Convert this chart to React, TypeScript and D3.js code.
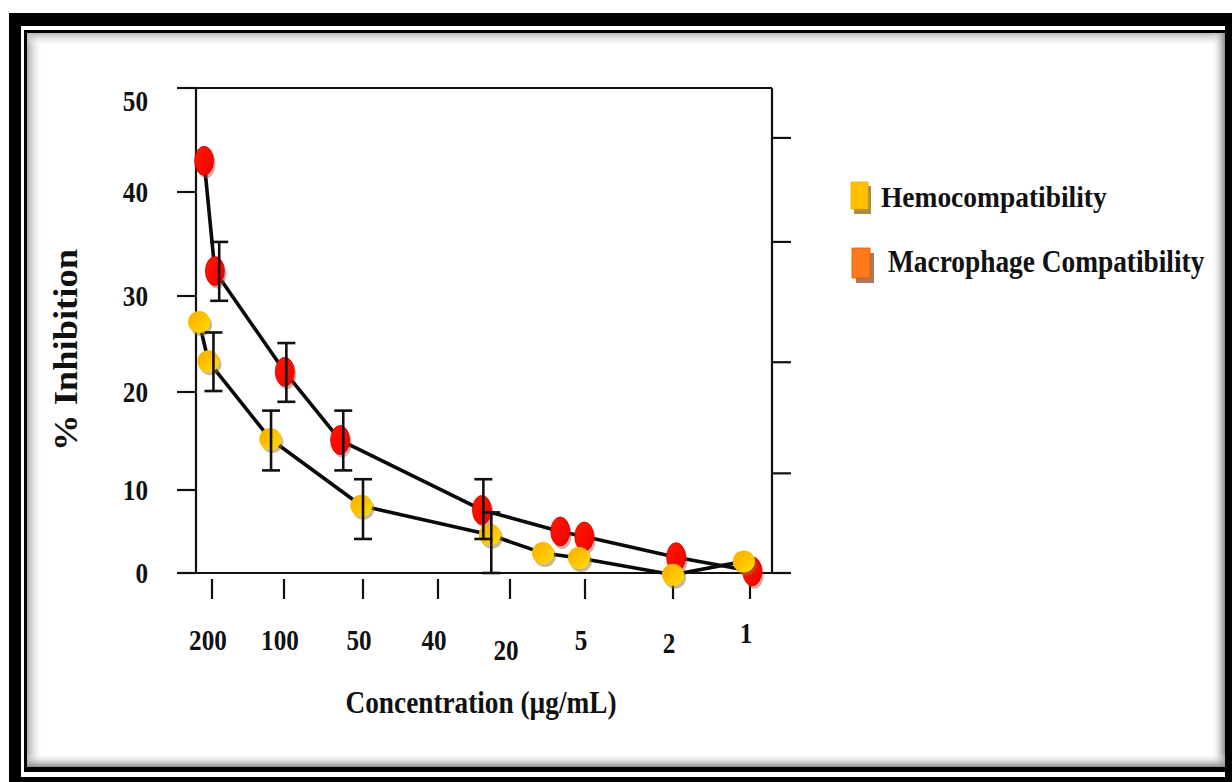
import React from 'react';
import * as d3 from 'd3';

const W = 1232;
const H = 782;

// concentration labels, drawn on unevenly spaced slots like the source figure
const concLabels = ['200', '100', '50', '40', '20', '5', '2', '1'];
const yTickValues = [0, 10, 20, 30, 40, 50];
// the right-hand axis has unlabeled ticks only
const rightTickValues = [0, 11.7, 23.1, 35.2, 45.2];

// x is in concentration-slot units (0 = "200" ... 7 = "1"), y is % inhibition
const hemoX = [-0.18, -0.05, 0.81, 1.98, 3.72, 4.44, 4.92, 6.0, 6.92];
const hemoY = [27.3, 23.2, 15.2, 8.1, 4.6, 2.4, 1.8, -0.2, 1.4];
const hemoErr = [
  { x: 0.02, lo: 20.1, hi: 26.2 },
  { x: 0.82, lo: 12.0, hi: 18.1 },
  { x: 2.0, lo: 4.1, hi: 11.1 },
  { x: 3.74, lo: 0, hi: 7.3 },
];

const macroX = [-0.11, 0.04, 1.01, 1.71, 3.61, 4.67, 4.99, 6.04, 7.03];
const macroY = [43.0, 32.4, 22.1, 15.1, 7.6, 5.0, 4.4, 1.9, 0.2];
const macroErr = [
  { x: 0.1, lo: 29.5, hi: 35.2 },
  { x: 1.03, lo: 19.0, hi: 25.1 },
  { x: 1.75, lo: 12.0, hi: 18.1 },
  { x: 3.63, lo: 4.1, hi: 11.1 },
];

const FONT = '"Liberation Serif", "Times New Roman", serif';

// the figure's text looks squeezed horizontally, so scale glyphs a bit
const SText: React.FC<{ x: number; y: number; size: number; anchor?: string; sx?: number; children: React.ReactNode }> = ({ x, y, size, anchor = 'middle', sx = 0.84, children }) => (
  <text
    transform={`translate(${x},${y}) scale(${sx},1)`}
    fontFamily={FONT}
    fontWeight="bold"
    fontSize={size}
    textAnchor={anchor as any}
    fill="#111"
  >
    {children}
  </text>
);

export default function App() {
  const x = d3.scaleLinear().domain(d3.range(concLabels.length)).range([212, 284, 363, 438, 510, 585, 673, 750]);
  const y = d3.scaleLinear().domain(yTickValues).range([573, 490, 392, 296, 192, 88]);

  const left = 196;
  const right = 772;
  const top = y(50);
  const bottom = y(0);

  const lineFor = (xs: number[]) =>
    d3.line<number>()
      .x((_, i) => x(xs[i]))
      .y((d) => y(d));

  const capW = 18;
  const errorBars = (errs: { x: number; lo: number; hi: number }[], key: string) =>
    errs.map((e, i) => (
      <g key={key + i} stroke="#111" strokeWidth={2.6}>
        <line x1={x(e.x)} x2={x(e.x)} y1={y(e.lo)} y2={y(e.hi)} />
        <line x1={x(e.x) - capW / 2} x2={x(e.x) + capW / 2} y1={y(e.hi)} y2={y(e.hi)} />
        <line x1={x(e.x) - capW / 2} x2={x(e.x) + capW / 2} y1={y(e.lo)} y2={y(e.lo)} />
      </g>
    ));

  // small label nudges seen in the original figure
  const xLabelDy: Record<string, number> = { '20': 10, '1': -7, '2': 3 };

  return (
    <svg width={W} height={H} style={{ position: 'absolute', left: 0, top: 0, display: 'block' }}>
      <defs>
        <linearGradient id="shL" x1="0" x2="1" y1="0" y2="0">
          <stop offset="0" stopColor="#a8a8a8" />
          <stop offset="1" stopColor="#fff" stopOpacity="0" />
        </linearGradient>
        <linearGradient id="shT" x1="0" x2="0" y1="0" y2="1">
          <stop offset="0" stopColor="#b8b8b8" />
          <stop offset="1" stopColor="#fff" stopOpacity="0" />
        </linearGradient>
        <linearGradient id="shR" x1="1" x2="0" y1="0" y2="0">
          <stop offset="0" stopColor="#8a8a8a" />
          <stop offset="1" stopColor="#fff" stopOpacity="0" />
        </linearGradient>
        <linearGradient id="shB" x1="0" x2="0" y1="1" y2="0">
          <stop offset="0" stopColor="#8a8a8a" />
          <stop offset="1" stopColor="#fff" stopOpacity="0" />
        </linearGradient>
        <linearGradient id="gy" x1="0" x2="1" y1="0" y2="1">
          <stop offset="0" stopColor="#f5ad00" />
          <stop offset="0.55" stopColor="#ffc400" />
          <stop offset="1" stopColor="#ffe000" />
        </linearGradient>
        <linearGradient id="gr" x1="0" x2="1" y1="0" y2="1">
          <stop offset="0" stopColor="#ff1a00" />
          <stop offset="1" stopColor="#ee0000" />
        </linearGradient>
      </defs>

      {/* page background and double frame */}
      <rect width={W} height={H} fill="#fff" />
      <rect x={9} y={13} width={W - 9} height={H - 13} fill="#000" />
      <rect x={21} y={26} width={1225 - 21} height={777 - 26} fill="#fff" />
      <rect x={24} y={30} width={1230 - 24} height={772 - 30} fill="#000" />
      <rect x={27} y={33} width={1225 - 27} height={767 - 33} fill="#fff" />
      <rect x={27} y={33} width={16} height={767 - 33} fill="url(#shL)" />
      <rect x={27} y={33} width={1225 - 27} height={14} fill="url(#shT)" />
      <rect x={1211} y={33} width={14} height={767 - 33} fill="url(#shR)" />
      <rect x={27} y={753} width={1225 - 27} height={14} fill="url(#shB)" />

      {/* plot frame */}
      <g stroke="#111" strokeWidth={2.2} fill="none">
        <line x1={left} x2={left} y1={top} y2={bottom} />
        <line x1={left} x2={right} y1={top} y2={top} />
        <line x1={right} x2={right} y1={top} y2={bottom} />
        <line x1={177} x2={790} y1={bottom} y2={bottom} />
      </g>

      {/* left axis */}
      {yTickValues.map((v) => (
        <g key={'yl' + v}>
          <line x1={177} x2={left} y1={y(v)} y2={y(v)} stroke="#111" strokeWidth={2.2} />
          <SText x={148} y={y(v) + 10 + (v === 50 ? 13 : 0)} size={30} anchor="end">
            {v}
          </SText>
        </g>
      ))}

      {/* right axis ticks */}
      {rightTickValues.map((v) => (
        <line key={'yr' + v} x1={right} x2={791} y1={y(v)} y2={y(v)} stroke="#111" strokeWidth={2.2} />
      ))}

      {/* x ticks, detached below the axis */}
      {concLabels.map((c, i) => (
        <g key={'xt' + c}>
          <line x1={x(i)} x2={x(i)} y1={579} y2={599} stroke="#111" strokeWidth={2.2} />
          <SText x={x(i) - 4} y={650 + (xLabelDy[c] || 0)} size={30}>
            {c}
          </SText>
        </g>
      ))}

      {/* axis titles */}
      <SText x={481} y={713} size={31} sx={0.88}>
        Concentration (µg/mL)
      </SText>
      <text
        transform="translate(77,350) rotate(-90)"
        fontFamily={FONT}
        fontWeight="bold"
        fontSize={33}
        textAnchor="middle"
        textLength={202}
        lengthAdjust="spacingAndGlyphs"
        fill="#111"
      >
        % Inhibition
      </text>

      {/* connecting lines */}
      <path d={lineFor(macroX)(macroY) || ''} fill="none" stroke="#0a0a0a" strokeWidth={3.6} strokeLinejoin="round" />
      <path d={lineFor(hemoX)(hemoY) || ''} fill="none" stroke="#0a0a0a" strokeWidth={3.6} strokeLinejoin="round" />

      {/* macrophage markers */}
      {macroY.map((v, i) => (
        <g key={'m' + i}>
          <ellipse cx={x(macroX[i]) + 2} cy={y(v) + 3} rx={9.5} ry={14.5} fill="rgba(150,70,50,0.45)" />
          <ellipse cx={x(macroX[i])} cy={y(v)} rx={9.5} ry={14.5} fill="url(#gr)" stroke="#d40000" strokeWidth={0.8} />
        </g>
      ))}

      {/* hemocompatibility markers */}
      {hemoY.map((v, i) => (
        <g key={'h' + i}>
          <circle cx={x(hemoX[i]) + 2} cy={y(v) + 3} r={11} fill="rgba(150,115,50,0.5)" />
          <circle cx={x(hemoX[i])} cy={y(v)} r={11} fill="url(#gy)" />
        </g>
      ))}

      {errorBars(macroErr, 'em')}
      {errorBars(hemoErr, 'eh')}

      {/* legend */}
      <rect x={854} y={186} width={17} height={28} fill="#a88a4a" />
      <rect x={851} y={182} width={17} height={27} fill="#ffc000" stroke="#f0a800" strokeWidth={0.8} />
      <SText x={881} y={207} size={30} anchor="start" sx={0.915}>
        Hemocompatibility
      </SText>
      <rect x={856} y={253} width={18} height={30} fill="#a8795a" />
      <rect x={852} y={248} width={18} height={30} fill="#ff7a1c" stroke="#e05a00" strokeWidth={0.8} />
      <SText x={888} y={272} size={32} anchor="start" sx={0.855}>
        Macrophage Compatibility
      </SText>
    </svg>
  );
}
